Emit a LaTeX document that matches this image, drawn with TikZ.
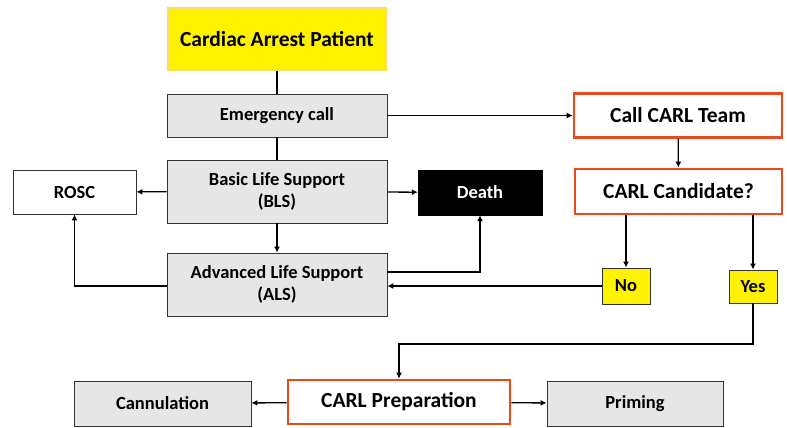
\documentclass[tikz,border=0pt]{standalone}
\usepackage{fontspec}
\setmainfont{Carlito}
\usetikzlibrary{arrows.meta}
\definecolor{boxgray}{HTML}{E6E6E6}
\definecolor{carlorange}{HTML}{E8491D}
\definecolor{paleorange}{HTML}{FFD966}
\begin{document}
\begin{tikzpicture}[x=1pt,y=-1pt,
  base/.style={inner sep=0pt, align=center, font=\bfseries},
  graybox/.style={base, draw=black!80, line width=0.9pt, fill=boxgray},
  whitebox/.style={base, draw=black!80, line width=0.9pt, fill=white},
  carlbox/.style={base, draw=carlorange, line width=2.6pt, fill=white},
  yesno/.style={base, draw=black!80, line width=0.9pt, fill=yellow},
  link/.style={line width=1.3pt},
  arr/.style={link, -{Latex[length=6pt,width=6pt]}},
  sz/.style 2 args={minimum width=#1pt, minimum height=#2pt},
  bigtext/.style={font=\bfseries\fontsize{21.5}{24}\selectfont},
  midtext/.style={font=\bfseries\fontsize{18.5}{22}\selectfont}
]
\useasboundingbox (0,0) rectangle (787,428);

% left column
\node[base, fill=yellow, draw=paleorange, line width=2.6pt, sz={218}{62}, bigtext]
  (cap) at (277,39) {Cardiac Arrest Patient};
\node[graybox, sz={220}{43}, midtext] (ec) at (277,115.5) {Emergency call};
\node[graybox, sz={220}{63}, midtext] (bls) at (277,191.5) {Basic Life Support\\(BLS)};
\node[graybox, sz={220}{63}, midtext] (als) at (277,284.5) {Advanced Life Support\\(ALS)};
\node[whitebox, sz={123}{44}, midtext] (rosc) at (74.5,192) {ROSC};
\node[base, fill=black, draw=black, text=white, sz={124}{45}, midtext] (death) at (480,192.5) {Death};

% CARL branch
\node[carlbox, sz={208}{44}, bigtext] (team) at (678,115.5) {Call CARL Team};
\node[carlbox, sz={207}{45}, bigtext] (cand) at (678.5,191.5) {CARL Candidate?};
\node[yesno, sz={48}{36}, midtext] (no) at (626,286) {No};
\node[yesno, sz={48}{33}, midtext] (yes) at (753,286.5) {Yes};

% bottom row
\node[carlbox, sz={222}{44}, bigtext] (prep) at (399,402) {CARL Preparation};
\node[graybox, sz={177}{45}, midtext] (cann) at (162.5,403.5) {Cannulation};
\node[graybox, sz={176}{45}, midtext] (prim) at (635,403.5) {Priming};

\coordinate (yesturn) at (753,344);

% connectors
\draw[link] (cap) -- (ec);
\draw[link] (ec) -- (bls);
\draw[arr] (ec) -- (team);
\draw[arr] (bls) -- (rosc);
\draw[arr] (bls) -- (death);
\draw[arr] (bls) -- (als);
\draw[arr] (als.west |- 0,286) -| (rosc.south);
\draw[arr] (als.east |- 0,272) -| (death.south);
\draw[arr] (no.west) -- (als.east |- no.west);
\draw[arr] (team) -- (cand);
\draw[arr] (cand.south -| no.north) -- (no.north);
\draw[arr] (cand.south -| yes.north) -- (yes.north);
\draw[arr] (yes.south) -- (yesturn) -| (prep.north);
\draw[arr] (prep) -- (cann);
\draw[arr] (prep) -- (prim);
\end{tikzpicture}
\end{document}
